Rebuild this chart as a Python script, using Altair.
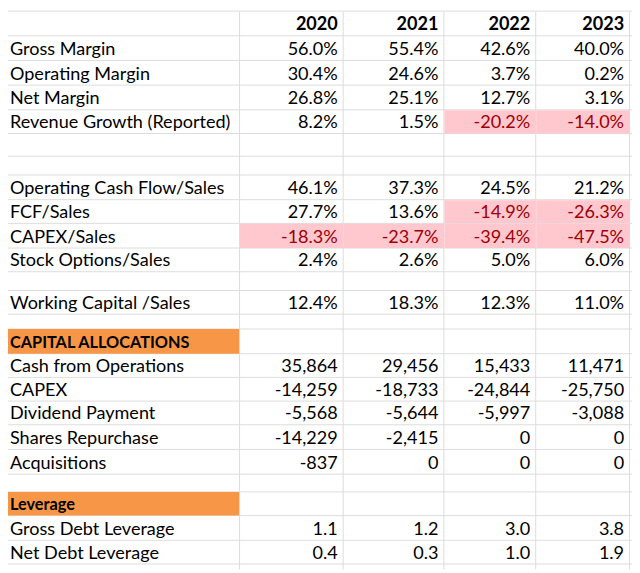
import altair as alt
import pandas as pd

# ---------------- data ----------------
years = ["2020", "2021", "2022", "2023"]

margin_labels = ["Gross Margin", "Operating Margin", "Net Margin", "Revenue Growth (Reported)"]
margin_values = [
    [56.0, 55.4, 42.6, 40.0],
    [30.4, 24.6, 3.7, 0.2],
    [26.8, 25.1, 12.7, 3.1],
    [8.2, 1.5, -20.2, -14.0],
]

cash_labels = ["Operating Cash Flow/Sales", "FCF/Sales", "CAPEX/Sales", "Stock Options/Sales"]
cash_values = [
    [46.1, 37.3, 24.5, 21.2],
    [27.7, 13.6, -14.9, -26.3],
    [-18.3, -23.7, -39.4, -47.5],
    [2.4, 2.6, 5.0, 6.0],
]

wc_label = "Working Capital /Sales"
wc_values = [12.4, 18.3, 12.3, 11.0]

alloc_title = "CAPITAL ALLOCATIONS"
alloc_labels = ["Cash from Operations", "CAPEX", "Dividend Payment", "Shares Repurchase", "Acquisitions"]
alloc_values = [
    [35864, 29456, 15433, 11471],
    [-14259, -18733, -24844, -25750],
    [-5568, -5644, -5997, -3088],
    [-14229, -2415, 0, 0],
    [-837, 0, 0, 0],
]

lev_title = "Leverage"
lev_labels = ["Gross Debt Leverage", "Net Debt Leverage"]
lev_values = [
    [1.1, 1.2, 3.0, 3.8],
    [0.4, 0.3, 1.0, 1.9],
]

# ---------------- layout / style ----------------
FONT = "Lato"
FSIZE = 18.3
FSIZE_TITLE = 16.5
GRID = "#dcdcdc"
ORANGE = "#F79646"
PINK = "#FFC7CE"
RED = "#9C0006"
BLACK = "#000000"

col_edges = [6, 242, 347, 449, 542, 637]
row_top = 7
# (kind, height)
row_specs = [
    ("years", 25),
    ("margin0", 25), ("margin1", 25), ("margin2", 25), ("margin3", 24),
    ("blank", 23), ("blank", 19),
    ("cash0", 25), ("cash1", 24), ("cash2", 25), ("cash3", 24),
    ("blank", 19),
    ("wc", 24),
    ("blank", 15),
    ("alloc_title", 25),
    ("alloc0", 24), ("alloc1", 24), ("alloc2", 24), ("alloc3", 25), ("alloc4", 25),
    ("blank", 18),
    ("lev_title", 24),
    ("lev0", 25), ("lev1", 24),
]

bounds = [row_top]
for _, h in row_specs:
    bounds.append(bounds[-1] + h)


def fmt_pct(v):
    return f"{v:.1f}%"


def fmt_int(v):
    return f"{v:,}"


def fmt_dec(v):
    return f"{v:.1f}"


labels_normal, labels_bold, vals_normal, vals_bold, fills = [], [], [], [], []

for i, (kind, _) in enumerate(row_specs):
    top, bot = bounds[i], bounds[i + 1]
    base = bot - 5
    label, values, fmt, cond = None, None, None, False
    if kind == "years":
        for j, yv in enumerate(years):
            vals_bold.append({"x": col_edges[j + 2] - 5, "y": base, "t": yv, "c": BLACK})
        continue
    if kind.startswith("margin"):
        k = int(kind[-1]); label, values, fmt, cond = margin_labels[k], margin_values[k], fmt_pct, True
    elif kind.startswith("cash"):
        k = int(kind[-1]); label, values, fmt, cond = cash_labels[k], cash_values[k], fmt_pct, True
    elif kind == "wc":
        label, values, fmt, cond = wc_label, wc_values, fmt_pct, True
    elif kind.startswith("alloc") and kind != "alloc_title":
        k = int(kind[-1]); label, values, fmt = alloc_labels[k], alloc_values[k], fmt_int
    elif kind.startswith("lev") and kind != "lev_title":
        k = int(kind[-1]); label, values, fmt = lev_labels[k], lev_values[k], fmt_dec
    elif kind in ("alloc_title", "lev_title"):
        title = alloc_title if kind == "alloc_title" else lev_title
        fills.append({"x": col_edges[0], "x2": col_edges[1], "y": top + 0.5, "y2": bot + 0.5,
                      "f": ORANGE})
        labels_bold.append({"x": col_edges[0] + 4, "y": base, "t": title, "c": BLACK})
        continue
    else:
        continue
    labels_normal.append({"x": col_edges[0] + 4, "y": base, "t": label, "c": BLACK})
    for j, v in enumerate(values):
        neg = cond and v < 0
        if neg:
            fills.append({"x": col_edges[j + 1] + 1, "x2": col_edges[j + 2] + 0.5,
                          "y": top + 1, "y2": bot + 0.5, "f": PINK})
        vals_normal.append({"x": col_edges[j + 2] - 5, "y": base, "t": fmt(v),
                            "c": RED if neg else BLACK})

W, H = 632, 565
xs = alt.Scale(domain=[8, 8 + W], range=[0, W], nice=False, zero=False)
ys = alt.Scale(domain=[8, 8 + H], range=[0, H], nice=False, zero=False)

grid_h = pd.DataFrame({"y": [b + 0.5 for b in bounds]})
grid_v = pd.DataFrame({"x": [e + 0.5 for e in col_edges]})

h_rules = alt.Chart(grid_h).mark_rule(color=GRID, strokeWidth=1).encode(
    y=alt.Y("y:Q", scale=ys, axis=None), x=alt.value(0), x2=alt.value(W)
)
v_rules = alt.Chart(grid_v).mark_rule(color=GRID, strokeWidth=1).encode(
    x=alt.X("x:Q", scale=xs, axis=None), y=alt.value(0), y2=alt.value(H)
)
fill_layer = alt.Chart(pd.DataFrame(fills)).mark_rect().encode(
    x=alt.X("x:Q", scale=xs, axis=None), x2="x2:Q",
    y=alt.Y("y:Q", scale=ys, axis=None), y2="y2:Q",
    color=alt.Color("f:N", scale=None),
)


def text_layer(rows, align, weight, size):
    return alt.Chart(pd.DataFrame(rows)).mark_text(
        align=align, baseline="alphabetic", font=FONT, fontSize=size, fontWeight=weight
    ).encode(
        x=alt.X("x:Q", scale=xs, axis=None),
        y=alt.Y("y:Q", scale=ys, axis=None),
        text="t:N",
        color=alt.Color("c:N", scale=None),
    )


chart = alt.layer(
    h_rules, v_rules, fill_layer,
    text_layer(labels_normal, "left", "normal", FSIZE),
    text_layer(labels_bold, "left", "bold", FSIZE_TITLE),
    text_layer(vals_normal, "right", "normal", FSIZE),
    text_layer(vals_bold, "right", "bold", FSIZE),
).properties(width=W, height=H, padding=0, autosize="none", background="white").configure_view(
    stroke=None
)

chart.save("out.html", embed_options={"renderer": "svg", "actions": False})
